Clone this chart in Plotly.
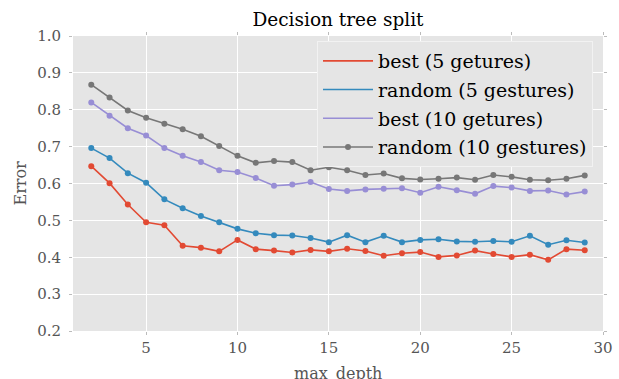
import plotly.graph_objects as go

max_depth = [2, 3, 4, 5, 6, 7, 8, 9, 10, 11, 12, 13, 14, 15, 16, 17, 18, 19, 20,
             21, 22, 23, 24, 25, 26, 27, 28, 29]
best_5 = [0.647, 0.601, 0.543, 0.495, 0.487, 0.431, 0.426, 0.416, 0.447, 0.422,
          0.418, 0.413, 0.420, 0.416, 0.423, 0.417, 0.404, 0.411, 0.414, 0.401,
          0.405, 0.418, 0.409, 0.401, 0.407, 0.393, 0.422, 0.419]
random_5 = [0.696, 0.669, 0.628, 0.602, 0.557, 0.533, 0.512, 0.495, 0.477, 0.465,
            0.460, 0.459, 0.452, 0.441, 0.460, 0.441, 0.458, 0.441, 0.447, 0.449,
            0.443, 0.442, 0.444, 0.442, 0.458, 0.434, 0.446, 0.440]
best_10 = [0.820, 0.784, 0.750, 0.730, 0.696, 0.675, 0.658, 0.636, 0.631, 0.615,
           0.594, 0.597, 0.604, 0.585, 0.580, 0.584, 0.586, 0.587, 0.575, 0.591,
           0.582, 0.572, 0.593, 0.589, 0.580, 0.581, 0.570, 0.578]
random_10 = [0.868, 0.833, 0.798, 0.778, 0.762, 0.747, 0.728, 0.702, 0.675, 0.656,
             0.661, 0.658, 0.636, 0.644, 0.636, 0.623, 0.627, 0.614, 0.611, 0.613,
             0.616, 0.610, 0.623, 0.618, 0.610, 0.609, 0.613, 0.622]

series = [
    ("best (5 getures)", best_5, "#E24A33", False),
    ("random (5 gestures)", random_5, "#348ABD", False),
    ("best (10 getures)", best_10, "#988ED5", False),
    ("random (10 gestures)", random_10, "#777777", True),
]

FONT = "DejaVu Serif"
fig = go.Figure()
for i, (name, vals, color, marker_in_legend) in enumerate(series):
    fig.add_trace(go.Scatter(
        x=max_depth, y=vals, name=name, legendgroup=f"g{i}",
        mode="lines+markers" if marker_in_legend else "lines",
        line=dict(color=color, width=1.6),
        marker=dict(color=color, size=6),
        showlegend=True,
    ))
    if not marker_in_legend:
        fig.add_trace(go.Scatter(
            x=max_depth, y=vals, name=name, legendgroup=f"g{i}",
            mode="markers", marker=dict(color=color, size=6),
            showlegend=False,
        ))

axis_common = dict(
    showgrid=True, gridcolor="white", gridwidth=1, zeroline=False,
    showline=False, ticks="outside", ticklen=3, tickcolor="#bbbbbb",
    mirror="ticks", tickfont=dict(family=FONT, size=15, color="#555555"),
    automargin=False,
)

PLOT_TOP, PLOT_BOTTOM, PLOT_LEFT, PLOT_RIGHT = 36, 331, 73, 603
ph = PLOT_BOTTOM - PLOT_TOP
pw = PLOT_RIGHT - PLOT_LEFT

fig.update_layout(
    width=619, height=379,
    margin=dict(l=PLOT_LEFT, r=619 - PLOT_RIGHT, t=PLOT_TOP, b=379 - PLOT_BOTTOM),
    paper_bgcolor="white", plot_bgcolor="#E5E5E5",
    font=dict(family=FONT, color="#555555"),
    title=dict(text="Decision tree split", x=0.546, xanchor="center",
               y=1 - 20 / 379, yanchor="middle", yref="container",
               font=dict(family=FONT, size=18.5, color="black")),
    xaxis=dict(range=[1, 30], tickvals=[5, 10, 15, 20, 25, 30], **axis_common),
    yaxis=dict(range=[0.2, 1.0], tickvals=[0.2, 0.3, 0.4, 0.5, 0.6, 0.7, 0.8, 0.9, 1.0],
               tickformat=".1f", ticklabelstandoff=5, **axis_common),
    legend=dict(x=(593 - PLOT_LEFT) / pw, xanchor="right",
                y=1 - (41 - PLOT_TOP) / ph, yanchor="top",
                bgcolor="#E5E5E5", bordercolor="#F2F2F2", borderwidth=1,
                font=dict(family=FONT, size=19, color="black"),
                itemwidth=50,
                traceorder="grouped", tracegroupgap=1),
    showlegend=True,
    annotations=[
        dict(text="max_depth", xref="paper", yref="paper",
             x=0.5, y=(PLOT_BOTTOM - 373) / ph, xanchor="center", yanchor="middle",
             showarrow=False, font=dict(family=FONT, size=16, color="#555555")),
        dict(text="Error", xref="paper", yref="paper", textangle=-90,
             x=(20 - PLOT_LEFT) / pw, y=0.5, xanchor="center", yanchor="middle",
             showarrow=False, font=dict(family=FONT, size=16, color="#555555")),
    ],
)

fig.write_html("out.html")
